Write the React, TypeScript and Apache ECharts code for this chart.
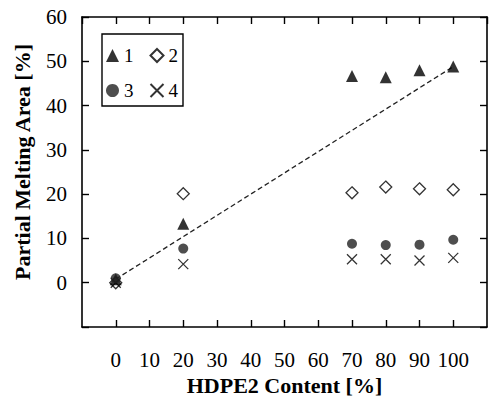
import React, { useEffect, useRef } from "react";
import * as echarts from "echarts";

// HDPE2 content [%] at which the samples were measured
const contents = [0, 20, 70, 80, 90, 100];
// Partial melting area [%] for each sample set
const series1 = [0.8, 13.3, 46.7, 46.4, 48.0, 48.8];
const series2 = [0.0, 20.1, 20.3, 21.6, 21.2, 21.0];
const series3 = [1.0, 7.7, 8.8, 8.5, 8.6, 9.7];
const series4 = [0.0, 4.2, 5.3, 5.3, 5.0, 5.6];
// Dashed trend line end points
const trendX = [0, 100];
const trendY = [0.8, 48.8];

const seriesNames = ["1", "2", "3", "4"];

const FONT = "'Liberation Serif', 'Times New Roman', serif";

const diamondPath = "path://M5,0L10,5L5,10L0,5Z";
const crossPath = "path://M0,0L10,10M10,0L0,10";

function pairs(xs: number[], ys: number[]) {
  return xs.map((x, i) => [x, ys[i]]);
}

export default function App() {
  const ref = useRef<HTMLDivElement>(null);

  useEffect(() => {
    if (!ref.current) return;
    const chart = echarts.init(ref.current, undefined, { renderer: "svg" });

    const axisLine = { show: true, onZero: false, lineStyle: { color: "#000", width: 1.6 } };
    const tick = { show: true, inside: true, length: 7, lineStyle: { color: "#000", width: 1.4 } };
    const titleStyle = { fontFamily: FONT, fontSize: 22, fontWeight: "bold", color: "#000" };

    chart.setOption({
      animation: false,
      backgroundColor: "#fff",
      grid: { left: 82, top: 17, right: 2, bottom: 79, containLabel: false },
      legend: {
        data: seriesNames,
        left: 102,
        top: 34,
        width: 75,
        orient: "horizontal",
        itemWidth: 13,
        itemHeight: 13,
        itemGap: 16,
        padding: [12, 5, 6, 4],
        borderColor: "#000",
        borderWidth: 1.4,
        textStyle: { fontFamily: FONT, fontSize: 19, color: "#000", padding: [2, 0, 0, 0] },
      },
      xAxis: [
        {
          type: "value",
          min: -10,
          max: 110,
          interval: 10,
          name: "HDPE2 Content [%]",
          nameLocation: "middle",
          nameGap: 45,
          nameTextStyle: titleStyle,
          axisLine,
          axisTick: tick,
          splitLine: { show: false },
          axisLabel: {
            margin: 22,
            fontFamily: FONT,
            fontSize: 21,
            color: "#000",
            showMinLabel: false,
            showMaxLabel: false,
            formatter: (v: number) => (v < 0 || v > 100 ? "" : String(v)),
          },
        },
        {
          type: "value",
          position: "top",
          min: -10,
          max: 110,
          interval: 10,
          axisLine,
          axisTick: tick,
          axisLabel: { show: false },
          splitLine: { show: false },
        },
      ],
      yAxis: [
        {
          type: "value",
          min: -10,
          max: 60,
          interval: 10,
          name: "Partial Melting Area [%]",
          nameLocation: "middle",
          nameGap: 49,
          nameTextStyle: { ...titleStyle, padding: [0, 0, 0, 20] },
          axisLine,
          axisTick: tick,
          splitLine: { show: false },
          axisLabel: {
            margin: 15,
            fontFamily: FONT,
            fontSize: 21,
            color: "#000",
            formatter: (v: number) => (v < 0 ? "" : String(v)),
          },
        },
        {
          type: "value",
          position: "right",
          min: -10,
          max: 60,
          interval: 10,
          axisLine,
          axisTick: tick,
          axisLabel: { show: false },
          splitLine: { show: false },
        },
      ],
      series: [
        {
          name: "1",
          type: "scatter",
          symbol: "triangle",
          symbolSize: 12,
          itemStyle: { color: "#000" },
          data: pairs(contents, series1),
          z: 4,
        },
        {
          name: "2",
          type: "scatter",
          symbol: diamondPath,
          symbolSize: 12,
          itemStyle: { color: "#fff", borderColor: "#000", borderWidth: 1.3 },
          data: pairs(contents, series2),
          z: 3,
        },
        {
          name: "3",
          type: "scatter",
          symbol: "circle",
          symbolSize: 10,
          itemStyle: { color: "#222" },
          data: pairs(contents, series3),
          z: 5,
        },
        {
          name: "4",
          type: "scatter",
          symbol: crossPath,
          symbolSize: 10,
          itemStyle: { color: "transparent", borderColor: "#000", borderWidth: 1.3 },
          data: pairs(contents, series4),
          z: 3,
        },
        {
          name: "trend",
          type: "line",
          data: pairs(trendX, trendY),
          symbol: "none",
          lineStyle: { color: "#222", width: 1.3, type: [5, 3] },
          z: 2,
          silent: true,
        },
      ],
    });

    return () => chart.dispose();
  }, []);

  return (
    <div
      ref={ref}
      style={{ position: "fixed", left: 0, top: 0, width: 489, height: 406, background: "#fff" }}
    />
  );
}
